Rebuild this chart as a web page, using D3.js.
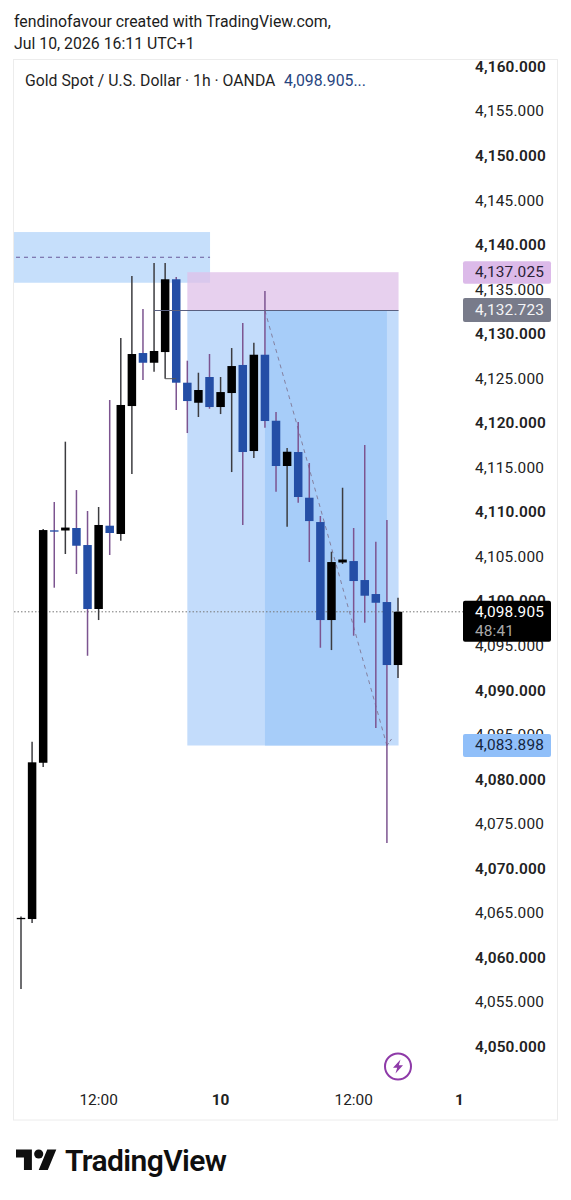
<!DOCTYPE html>
<html><head><meta charset="utf-8">
<script src="https://cdn.jsdelivr.net/npm/d3@7/dist/d3.min.js"></script>
<style>html,body{margin:0;padding:0;background:#fff}svg{display:block}text{font-family:Roboto,sans-serif}</style>
</head><body><svg id="c" width="571" height="1200"></svg>
<script>
const opens=[4064.45,4064.42,4081.96,4108.05,4108.03,4108.31,4106.4,4099.22,4108.57,4107.64,4122.0,4127.95,4126.86,4128.06,4136.23,4124.62,4122.37,4125.26,4121.89,4123.46,4126.61,4116.95,4127.76,4120.35,4115.27,4116.84,4111.71,4108.98,4097.98,4104.44,4104.6,4102.47,4100.9,4100.0,4092.93];
const highs=[4064.7,4084.32,4108.2,4111.23,4118.0,4112.57,4110.22,4110.67,4122.68,4129.64,4136.6,4132.89,4138.06,4138.06,4136.48,4127.09,4125.74,4127.84,4125.26,4128.51,4131.32,4129.11,4134.91,4121.33,4117.29,4120.21,4115.61,4109.66,4105.65,4112.83,4108.31,4117.63,4106.77,4109.21,4100.48];
const lows=[4056.56,4063.97,4081.48,4101.61,4105.39,4103.15,4093.97,4097.98,4105.28,4106.88,4114.37,4124.92,4125.85,4125.07,4121.55,4118.97,4120.77,4121.7,4121.1,4114.59,4108.65,4116.17,4119.57,4112.38,4108.45,4111.15,4104.49,4094.87,4094.61,4104.27,4096.22,4097.68,4085.86,4072.95,4091.47];
const closes=[4064.55,4082.01,4108.08,4107.9,4108.36,4106.32,4099.22,4108.65,4107.75,4122.12,4127.84,4126.86,4128.18,4136.23,4124.62,4122.56,4123.8,4121.89,4123.57,4126.49,4116.84,4127.76,4120.32,4115.27,4116.87,4111.79,4109.09,4097.98,4104.49,4104.77,4102.36,4100.71,4099.92,4092.93,4098.905];
const priceTicks=d3.range(4050,4161,5);
const timeTickPos=[7,18,30,39.55];
const timeTickLabels=["12:00","10","12:00","1"];
const lastPrice=4098.905, countdown="48:41", stopPrice=4137.025, entryPrice=4132.723, targetPrice=4083.898;
const supplyZone={from:-0.63,to:17.05,top:4141.53,bottom:4135.84,mid:4138.7};
const positionSpan={from:15,to:34.05,entryFrom:12,reachFrom:22,reachTo:33};
const stub={from:13,to:14,price:4125.07};

const svg=d3.select("#c");
const x=d3.scaleLinear().domain([0,34]).range([21,398]);
const y=d3.scaleLinear().domain([4160,4050]).range([67.5,1047.5]);
const fmt=d3.format(",.3f");
const BW=8.5;

// frame
svg.append("rect").attr("x",13.5).attr("y",59.5).attr("width",544).attr("height",1060.5)
  .attr("fill","#fff").attr("stroke","#ececec").attr("stroke-width",1);

// header text
svg.append("text").attr("x",14).attr("y",27).attr("font-size",15.85).attr("fill","#1c1c1c").text("fendinofavour created with TradingView.com,");
svg.append("text").attr("x",14).attr("y",49).attr("font-size",15.85).attr("fill","#1c1c1c").text("Jul 10, 2026 16:11 UTC+1");
svg.append("text").attr("x",25).attr("y",85.5).attr("font-size",15.8).attr("fill","#1f1f1f").text("Gold Spot / U.S. Dollar · 1h · OANDA");
svg.append("text").attr("x",284).attr("y",85.5).attr("font-size",15.8).attr("fill","#27457f").text(fmt(lastPrice)+"...");

// zones
function rect(x0,x1,p0,p1,fill,op){return svg.append("rect").attr("x",x0).attr("width",x1-x0).attr("y",y(p0)).attr("height",y(p1)-y(p0)).attr("fill",fill).attr("fill-opacity",op==null?1:op);}
rect(x(positionSpan.from),x(positionSpan.to),entryPrice,targetPrice,"#c3dcfb");
rect(x(positionSpan.reachFrom),x(positionSpan.reachTo),entryPrice,targetPrice,"#a7cdf9");
rect(x(supplyZone.from),x(supplyZone.to),supplyZone.top,supplyZone.bottom,"#c6dffb");
rect(x(positionSpan.from),x(positionSpan.to),stopPrice,entryPrice,"#dfc0e8",0.75);
svg.append("line").attr("x1",x(supplyZone.from)+2).attr("x2",x(supplyZone.to)).attr("y1",y(supplyZone.mid)).attr("y2",y(supplyZone.mid))
  .attr("stroke","#6a5a9a").attr("stroke-width",1).attr("stroke-dasharray","4 4");
svg.append("line").attr("x1",x(positionSpan.reachFrom)).attr("x2",x(positionSpan.reachTo)).attr("y1",y(entryPrice)).attr("y2",y(targetPrice))
  .attr("stroke","#84809f").attr("stroke-width",1).attr("stroke-dasharray","4 4");
svg.append("line").attr("x1",x(positionSpan.reachTo)).attr("x2",x(positionSpan.reachTo)+5).attr("y1",y(targetPrice)).attr("y2",y(targetPrice)-7)
  .attr("stroke","#84809f").attr("stroke-width",1).attr("stroke-dasharray","3 2");

// last price line
svg.append("line").attr("x1",14).attr("x2",463).attr("y1",y(lastPrice)).attr("y2",y(lastPrice))
  .attr("stroke","#777").attr("stroke-width",1).attr("stroke-dasharray","1.5 2");

// candles
const data=opens.map((o,i)=>({i,o,h:highs[i],l:lows[i],c:closes[i]}));
const isUp=d=>d.c>=d.o;
const g=svg.append("g");
g.selectAll("line.w").data(data).join("line").attr("class","w")
  .attr("x1",d=>x(d.i)).attr("x2",d=>x(d.i)).attr("y1",d=>y(d.h)).attr("y2",d=>y(d.l))
  .attr("stroke",d=>isUp(d)?"#3c3c40":"#7c5490").attr("stroke-width",1.5);
g.selectAll("rect.b").data(data).join("rect").attr("class","b")
  .attr("x",d=>x(d.i)-BW/2).attr("width",BW)
  .attr("y",d=>y(Math.max(d.o,d.c))).attr("height",d=>Math.max(1.3,Math.abs(y(d.o)-y(d.c))))
  .attr("fill",d=>isUp(d)?"#000":"#244ea6");
svg.append("line").attr("x1",x(stub.from)).attr("x2",x(stub.to)).attr("y1",y(stub.price)).attr("y2",y(stub.price)).attr("stroke","#555").attr("stroke-width",1);
svg.append("line").attr("x1",x(positionSpan.entryFrom)).attr("x2",x(positionSpan.to)).attr("y1",y(entryPrice)).attr("y2",y(entryPrice)).attr("stroke","#5a6080").attr("stroke-width",1);

// price axis
const yAxis=d3.axisRight(y).tickValues(priceTicks).tickSize(0).tickPadding(0).tickFormat(fmt);
const ga=svg.append("g").attr("transform","translate(475,-1)").call(yAxis);
ga.select(".domain").remove();
ga.selectAll("text").attr("font-size",15.4).attr("font-family","Roboto,sans-serif").attr("fill","#222")
  .attr("font-weight",d=>d%10===0?600:400).style("letter-spacing","0.15px");

// price labels
function tag(y0,y1,fill){svg.append("rect").attr("x",463).attr("width",88).attr("y",y0).attr("height",y1-y0).attr("rx",2).attr("fill",fill);}
function tagText(t,yy,fill){svg.append("text").attr("x",475).attr("y",yy).attr("font-size",15.4).attr("fill",fill).style("letter-spacing","0.15px").text(t);}
tag(y(stopPrice)-11,y(stopPrice)+11.5,"#dcbae9"); tagText(fmt(stopPrice),y(stopPrice)+5,"#2a2236");
tag(y(entryPrice)-12.5,y(entryPrice)+11.5,"#787b8a"); tagText(fmt(entryPrice),y(entryPrice)+4.5,"#f4f4f6");
tag(y(lastPrice)-11,y(lastPrice)+30,"#000"); tagText(fmt(lastPrice),y(lastPrice)+5,"#fff"); tagText(countdown,y(lastPrice)+24,"#a8a8a8");
tag(y(targetPrice)-11.5,y(targetPrice)+11.5,"#90bff9"); tagText(fmt(targetPrice),y(targetPrice)+5,"#14263f");

// time axis
const xAxis=d3.axisBottom(x).tickValues(timeTickPos).tickSize(0).tickPadding(0).tickFormat((d,i)=>timeTickLabels[i]);
const gx=svg.append("g").attr("transform","translate(-0.5,1094)").call(xAxis);
gx.select(".domain").remove();
gx.selectAll("text").attr("font-size",15.4).attr("font-family","Roboto,sans-serif").attr("fill","#222")
  .attr("font-weight",(d,i)=>/^\d+$/.test(timeTickLabels[i])?700:400);

// lightning badge
const b=svg.append("g").attr("transform","translate(398,1066.5)");
b.append("circle").attr("r",13).attr("fill","#fff").attr("stroke","#8e3aa8").attr("stroke-width",2);
b.append("path").attr("d","M2.5-7 L-5 1.2 H-0.8 L-2.5 7 L5-1.2 H0.8Z").attr("fill","#8e3aa8");

// logo
const l=svg.append("g").attr("transform","translate(16,1145) scale(1.135)").attr("fill","#0f0f0f");
l.append("path").attr("d","M14 22H7V11H0V4h14v18zM28 22h-8l7.5-18h8L28 22z");
l.append("circle").attr("cx",20).attr("cy",8).attr("r",4);
svg.append("text").attr("x",65).attr("y",1170.5).attr("font-family","Inter,sans-serif").attr("font-size",30).attr("font-weight",600).attr("fill","#0f0f0f").style("letter-spacing","-0.6px").text("TradingView");
</script></body></html>
